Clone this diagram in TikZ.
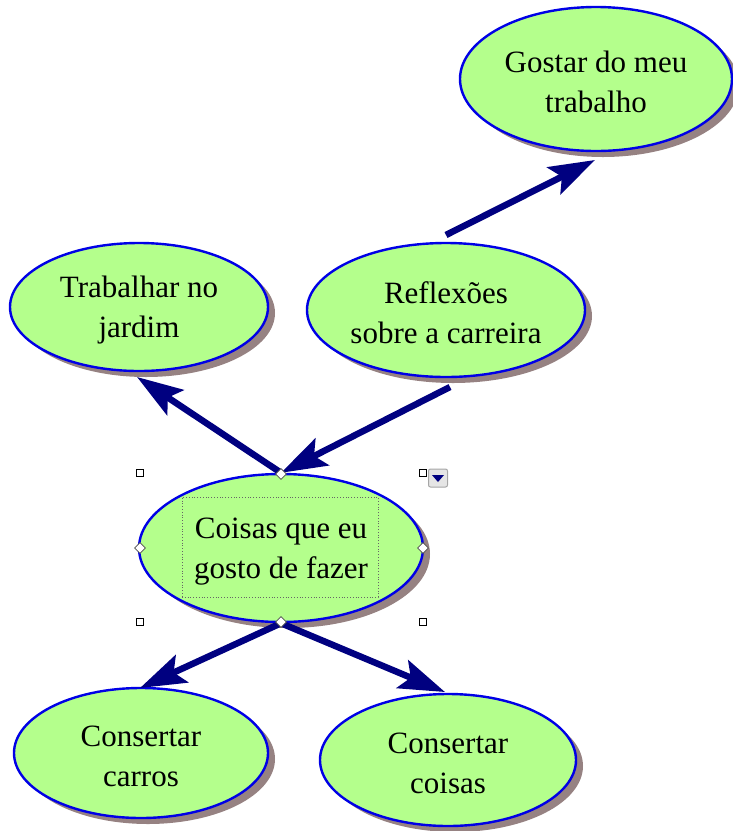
\documentclass[tikz,border=0pt]{standalone}
\usepackage{fontspec}
\setmainfont{Liberation Serif}
\usetikzlibrary{shapes.geometric,arrows.meta,shadows}
\definecolor{nodefill}{RGB}{180,255,140}
\definecolor{nodeline}{RGB}{0,0,230}
\definecolor{shadowc}{RGB}{150,130,130}
\definecolor{arrowc}{RGB}{0,0,128}
\tikzset{
  idea/.style={ellipse, draw=nodeline, line width=2.4pt, fill=nodefill, inner sep=0pt,
    align=center, font=\fontsize{31}{40}\selectfont, text height=68pt,
    drop shadow={shadow xshift=7pt, shadow yshift=-6pt, fill=shadowc, opacity=1}},
  arr/.style={draw=arrowc, line width=6.5pt, -{Stealth[length=46pt,width=30pt,inset=9pt]}},
  handlesq/.style={draw=black, fill=white, line width=1pt, minimum size=7pt, inner sep=0pt},
  handledia/.style={diamond, draw=black!70, fill=white, line width=0.8pt, minimum size=11pt, inner sep=0pt},
}
\begin{document}
\begin{tikzpicture}[x=1pt,y=-1pt]
\useasboundingbox (0,0) rectangle (733,831);
% nodes
\node[idea, minimum width=272pt, minimum height=144pt] (gostar) at (596,79) {Gostar do meu\\trabalho};
\node[idea, minimum width=258pt, minimum height=128pt] (trab) at (139,307) {Trabalhar no\\jardim};
\node[idea, minimum width=278pt, minimum height=134pt] (refl) at (446,310) {Reflexões\\sobre a carreira};
\node[idea, minimum width=284pt, minimum height=148pt] (coisas) at (281,548) {Coisas que eu\\gosto de fazer};
\node[idea, minimum width=254pt, minimum height=130pt] (carros) at (141,753) {Consertar\\carros};
\node[idea, minimum width=256pt, minimum height=132pt] (coisas2) at (448,760) {Consertar\\coisas};
% connector end points
\coordinate (gtip) at (595,160);
\coordinate (rtop) at (446,235);
\coordinate (rbot) at (450,387);
\coordinate (ttip) at (137,377);
\coordinate (ctip) at (140,688);
\coordinate (c2tip) at (445,692);
% arrows
\draw[arr] (rtop) -- (gtip);
\draw[arr] (coisas.north) -- (ttip);
\draw[arr] (rbot) -- (coisas.north);
\draw[arr] (coisas.south) -- (ctip);
\draw[arr] (coisas.south) -- (c2tip);
% selection decoration
\node[draw=black!60, dotted, line width=0.8pt, minimum width=196pt, minimum height=100pt, inner sep=0pt] (tbox) at (280,547) {};
\node[handlesq] (h1) at (140,473) {};
\node[handlesq] (h2) at (423,473) {};
\node[handlesq] (h3) at (140,622) {};
\node[handlesq] (h4) at (423,622) {};
\node[handledia] (d1) at (281,474) {};
\node[handledia] (d2) at (140,548) {};
\node[handledia] (d3) at (423,548) {};
\node[handledia] (d4) at (281,622) {};
\node[draw=black!35, fill=black!10, rounded corners=2pt, minimum width=19pt, minimum height=18pt, inner sep=0pt, line width=1pt] (btn) at (438,478) {};
\fill[arrowc] ([shift={(-6,-3)}]btn.center) -- ([shift={(6,-3)}]btn.center) -- ([shift={(0,4)}]btn.center) -- cycle;
\end{tikzpicture}
\end{document}
